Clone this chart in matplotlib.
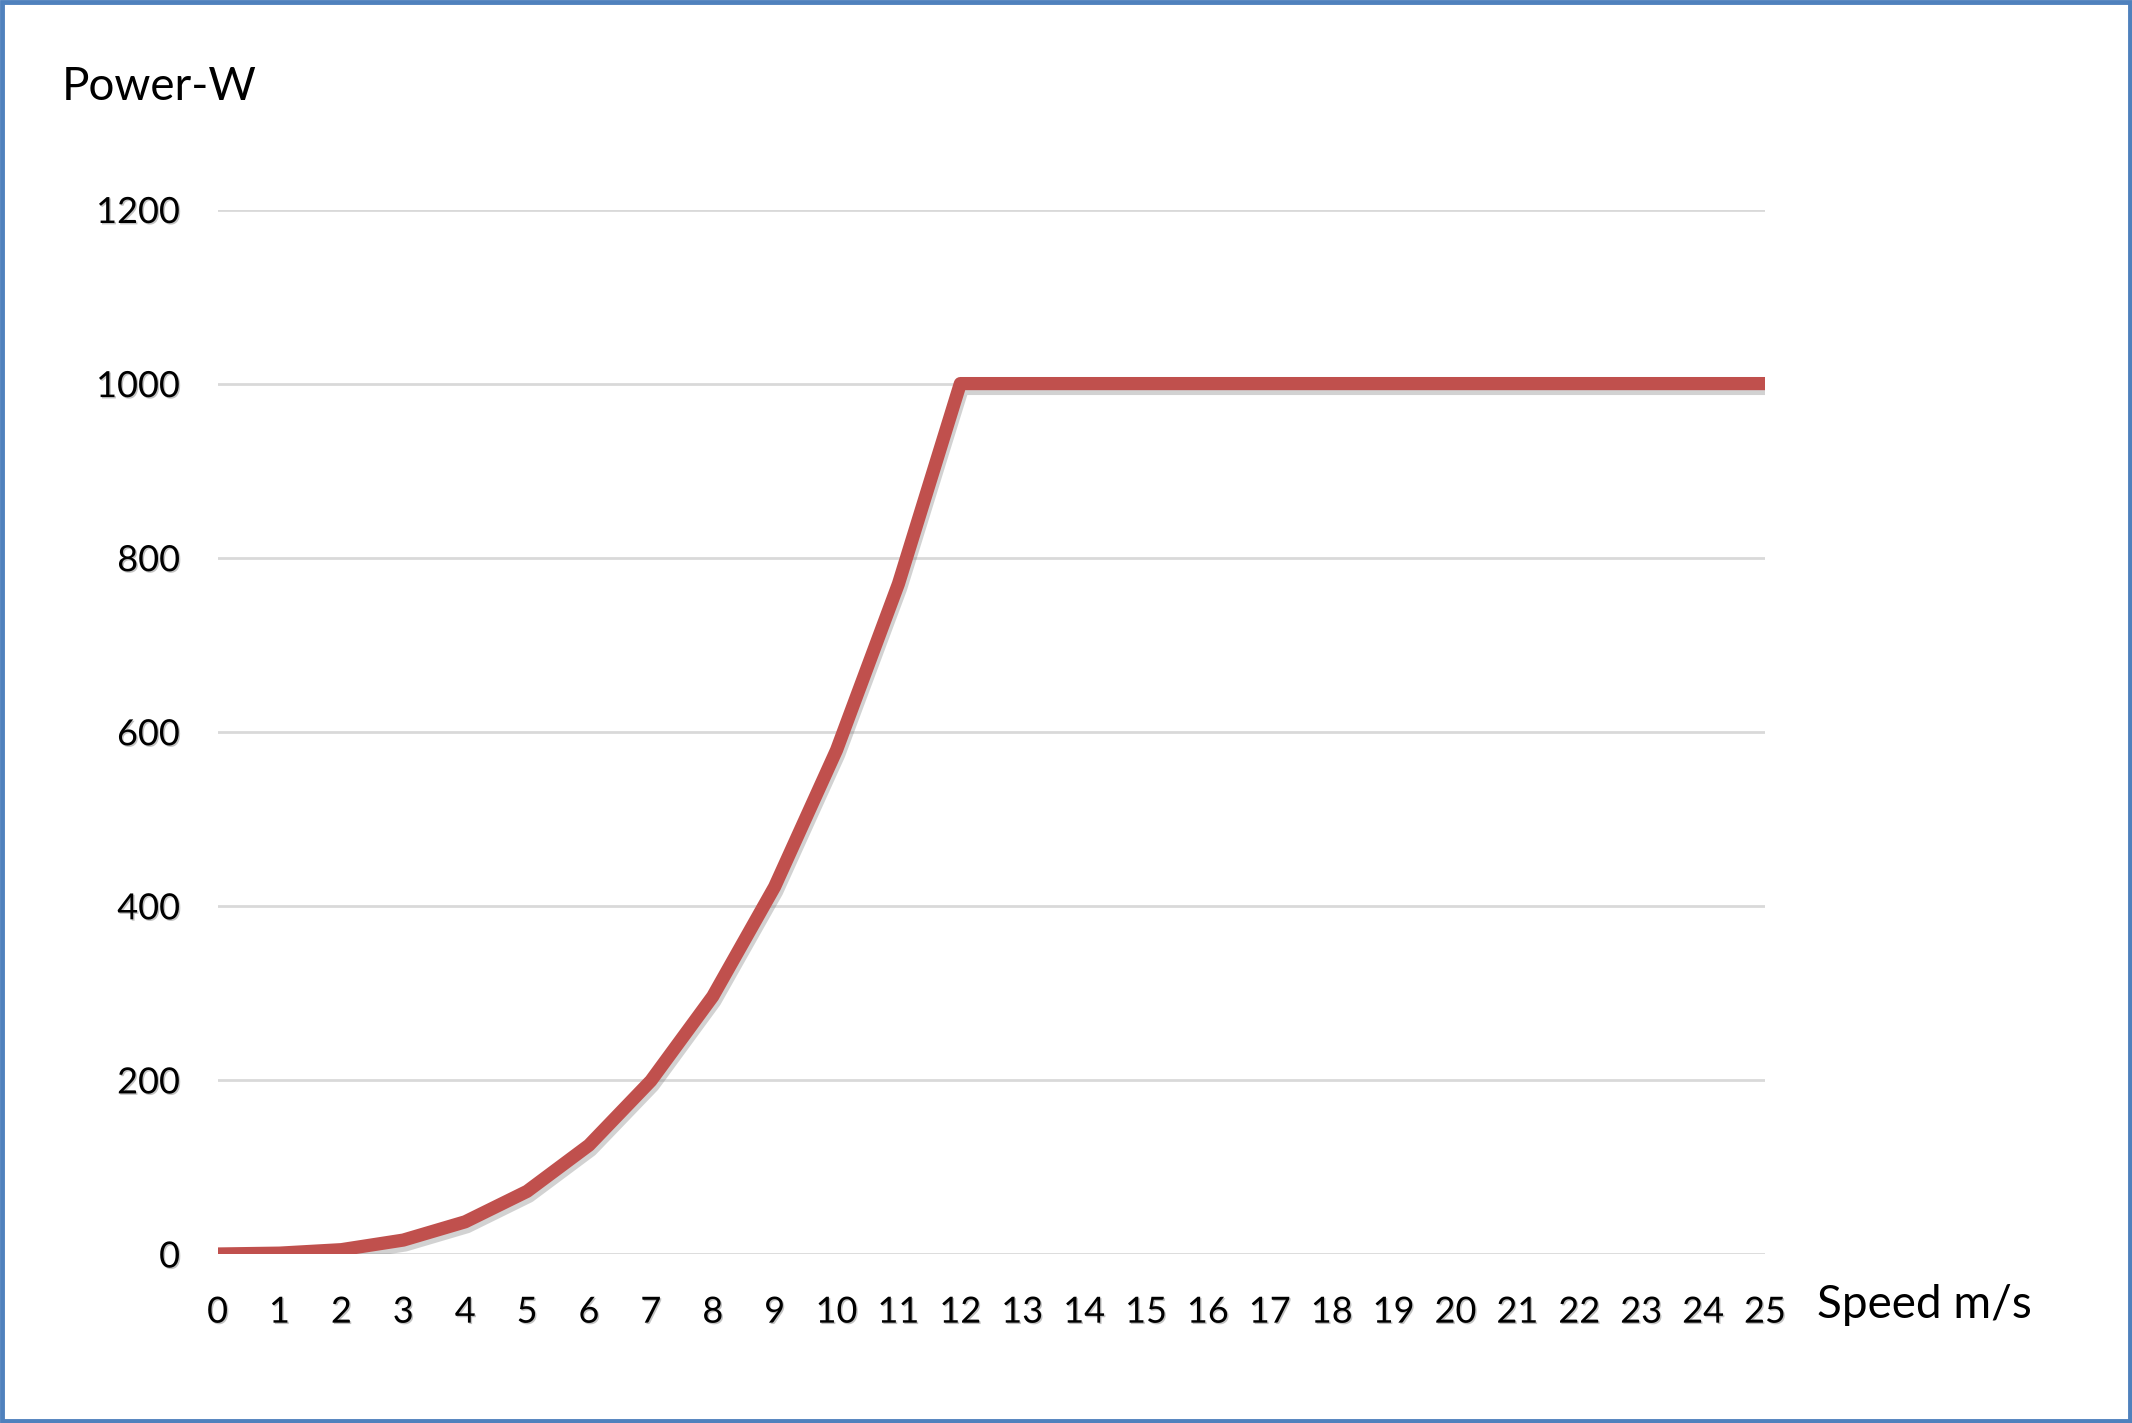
import matplotlib
matplotlib.use("Agg")
import matplotlib.pyplot as plt
import matplotlib.patheffects as pe
from matplotlib.patches import Rectangle

speed = list(range(0, 26))
power = [0, 1, 5, 16, 37, 72, 125, 199, 296, 422, 579, 770, 1000,
         1000, 1000, 1000, 1000, 1000, 1000, 1000, 1000, 1000, 1000, 1000, 1000, 1000]
yticks = [0, 200, 400, 600, 800, 1000, 1200]
y_label = "Power-W"
x_label = "Speed m/s"

plt.rcParams['font.family'] = ['Lato', 'DejaVu Sans']

W, H, DPI = 2132, 1423, 100
fig = plt.figure(figsize=(W / DPI, H / DPI), dpi=DPI)
fig.patch.set_facecolor('white')

ax = fig.add_axes([217.6 / W, 1 - 1254 / H, (1765 - 217.6) / W, (1254 - 209.5) / H])
ax.set_xlim(0, 25)
ax.set_ylim(0, 1200)
for s in ax.spines.values():
    s.set_visible(False)
ax.set_yticks(yticks)
ax.set_xticks(speed)
ax.grid(axis='y', color='#D9D9D9', linewidth=2.0)
ax.set_axisbelow(True)
ax.tick_params(length=0)
ax.tick_params(axis='y', pad=27, labelsize=26)
ax.tick_params(axis='x', pad=30, labelsize=26)

for lab in ax.get_xticklabels() + ax.get_yticklabels():
    lab.set_path_effects([pe.withSimplePatchShadow(offset=(1, -1), shadow_rgbFace='#888888', alpha=0.5)])

ax.plot(speed, power, color='#C0504D', linewidth=9.5, solid_joinstyle='round', solid_capstyle='butt',
        path_effects=[pe.SimpleLineShadow(offset=(1.5, -3.5), shadow_color='gray', alpha=0.35),
                      pe.Normal()], zorder=3)

fig.text(62 / W, 1 - 87 / H, y_label, fontsize=33, ha='left', va='center')
fig.text(1817 / W, 1 - 1305 / H, x_label, fontsize=33, ha='left', va='center')

fig.patches.append(Rectangle((0.001, 0.0015), 0.998, 0.997, transform=fig.transFigure,
                             fill=False, edgecolor='#4F81BD', linewidth=3.5))

fig.savefig('out.png', dpi=DPI, facecolor='white')
